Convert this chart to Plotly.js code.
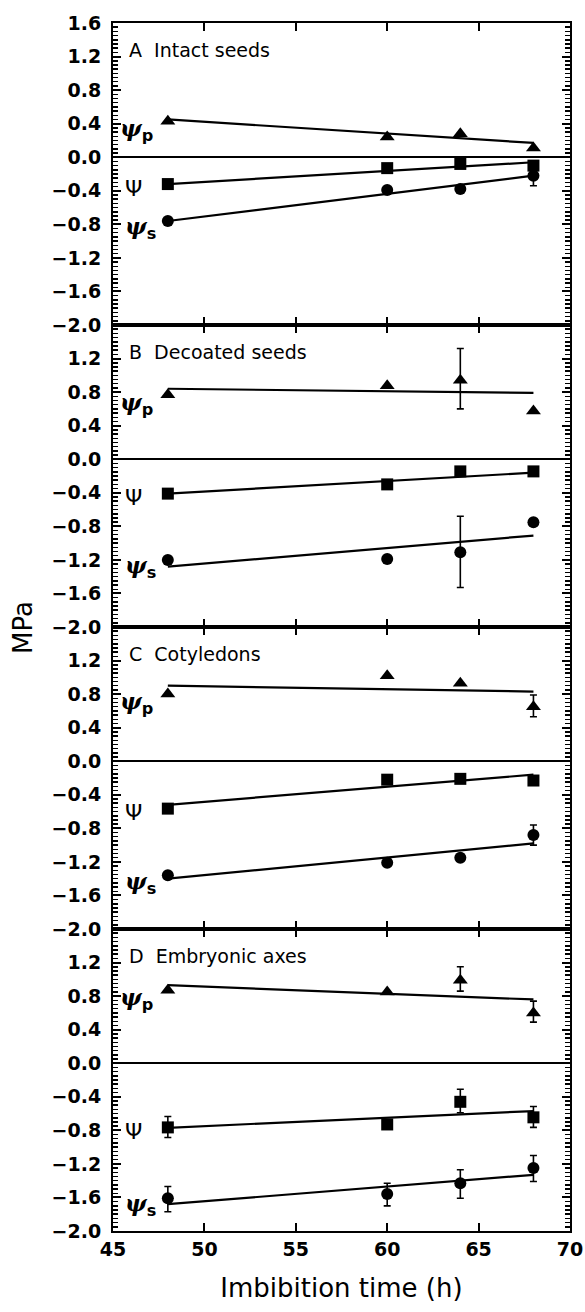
<!DOCTYPE html>
<html>
<head>
<meta charset="utf-8">
<script src="https://cdn.plot.ly/plotly-3.0.1.min.js"></script>
<style>html,body{margin:0;padding:0;background:#fff;}#chart{width:585px;height:1312px;}</style>
</head>
<body>
<div id="chart"></div>
<script>
// Imbibition time (h)
const time = [48, 60, 64, 68];
const fitX = [48, 68];

const panelTitles = ["A  Intact seeds", "B  Decoated seeds", "C  Cotyledons", "D  Embryonic axes"];

// Panel A: intact seeds
const A_psiP = [0.43, 0.24, 0.28, 0.11];
const A_psiP_up = [null, null, null, null];
const A_psiP_dn = [null, null, null, null];
const A_psiP_fit = [0.45, 0.17];
const A_psi = [-0.32, -0.13, -0.08, -0.10];
const A_psi_up = [null, null, null, null];
const A_psi_dn = [null, null, null, null];
const A_psi_fit = [-0.32, -0.06];
const A_psiS = [-0.76, -0.39, -0.38, -0.22];
const A_psiS_up = [null, null, null, 0.12];
const A_psiS_dn = [null, null, null, 0.12];
const A_psiS_fit = [-0.76, -0.22];

// Panel B: decoated seeds
const B_psiP = [0.77, 0.875, 0.94, 0.575];
const B_psiP_up = [null, null, 0.38, null];
const B_psiP_dn = [null, null, 0.34, null];
const B_psiP_fit = [0.84, 0.79];
const B_psi = [-0.41, -0.30, -0.145, -0.145];
const B_psi_up = [null, null, null, null];
const B_psi_dn = [null, null, null, null];
const B_psi_fit = [-0.41, -0.16];
const B_psiS = [-1.20, -1.19, -1.11, -0.75];
const B_psiS_up = [null, null, 0.43, null];
const B_psiS_dn = [null, null, 0.42, null];
const B_psiS_fit = [-1.28, -0.91];

// Panel C: cotyledons
const C_psiP = [0.80, 1.02, 0.93, 0.65];
const C_psiP_up = [null, null, null, 0.14];
const C_psiP_dn = [null, null, null, 0.12];
const C_psiP_fit = [0.90, 0.83];
const C_psi = [-0.565, -0.22, -0.21, -0.23];
const C_psi_up = [null, null, null, null];
const C_psi_dn = [null, null, null, null];
const C_psi_fit = [-0.52, -0.16];
const C_psiS = [-1.36, -1.21, -1.15, -0.88];
const C_psiS_up = [null, null, null, 0.12];
const C_psiS_dn = [null, null, null, 0.12];
const C_psiS_fit = [-1.40, -0.98];

// Panel D: embryonic axes
const D_psiP = [0.87, 0.85, 0.99, 0.60];
const D_psiP_up = [null, null, 0.16, 0.14];
const D_psiP_dn = [null, null, 0.13, 0.11];
const D_psiP_fit = [0.93, 0.76];
const D_psi = [-0.765, -0.73, -0.46, -0.645];
const D_psi_up = [0.13, null, 0.15, 0.13];
const D_psi_dn = [0.12, null, 0.13, 0.12];
const D_psi_fit = [-0.77, -0.57];
const D_psiS = [-1.61, -1.56, -1.43, -1.25];
const D_psiS_up = [0.14, 0.13, 0.16, 0.15];
const D_psiS_dn = [0.16, 0.14, 0.18, 0.16];
const D_psiS_fit = [-1.68, -1.33];

const yTicksTop = [-2.0, -1.6, -1.2, -0.8, -0.4, 0.0, 0.4, 0.8, 1.2, 1.6];
const yTicksOther = [-2.0, -1.6, -1.2, -0.8, -0.4, 0.0, 0.4, 0.8, 1.2];
const xTicks = [45, 50, 55, 60, 65, 70];

const panels = [
  {psiP:[A_psiP,A_psiP_up,A_psiP_dn,A_psiP_fit], psi:[A_psi,A_psi_up,A_psi_dn,A_psi_fit], psiS:[A_psiS,A_psiS_up,A_psiS_dn,A_psiS_fit]},
  {psiP:[B_psiP,B_psiP_up,B_psiP_dn,B_psiP_fit], psi:[B_psi,B_psi_up,B_psi_dn,B_psi_fit], psiS:[B_psiS,B_psiS_up,B_psiS_dn,B_psiS_fit]},
  {psiP:[C_psiP,C_psiP_up,C_psiP_dn,C_psiP_fit], psi:[C_psi,C_psi_up,C_psi_dn,C_psi_fit], psiS:[C_psiS,C_psiS_up,C_psiS_dn,C_psiS_fit]},
  {psiP:[D_psiP,D_psiP_up,D_psiP_dn,D_psiP_fit], psi:[D_psi,D_psi_up,D_psi_dn,D_psi_fit], psiS:[D_psiS,D_psiS_up,D_psiS_dn,D_psiS_fit]}
];

const symbols = {psiP: ['triangle-up', 13], psi: ['square', 12], psiS: ['circle', 12]};
const traces = [];
const annotations = [];
const layout = {
  width: 585, height: 1312,
  margin: {l: 113, r: 15, t: 23, b: 81},
  paper_bgcolor: '#fff', plot_bgcolor: '#fff',
  showlegend: false,
  font: {family: 'DejaVu Sans', color: '#000'}
};

panels.forEach((p, i) => {
  const n = i + 1;
  const xa = n === 1 ? 'x' : 'x' + n;
  const ya = n === 1 ? 'y' : 'y' + n;
  ['psiP', 'psi', 'psiS'].forEach(key => {
    const [vals, up, dn, fit] = p[key];
    traces.push({x: fitX, y: fit, xaxis: xa, yaxis: ya, mode: 'lines', line: {color: '#000', width: 2.2}, hoverinfo: 'skip'});
    traces.push({
      x: time, y: vals, xaxis: xa, yaxis: ya, mode: 'markers',
      marker: {symbol: symbols[key][0], size: symbols[key][1], color: '#000'},
      error_y: {type: 'data', symmetric: false, array: up, arrayminus: dn, color: '#000', thickness: 1.6, width: 3.5}
    });
  });
  const top = 1 - i * 0.25, bot = top - 0.25;
  layout['xaxis' + (n === 1 ? '' : n)] = {
    domain: [0, 1], anchor: ya, range: [45, 70], tickvals: xTicks,
    ticks: 'inside', ticklen: 8, tickwidth: 2, tickcolor: '#000',
    showline: true, linewidth: 2, linecolor: '#000', mirror: 'ticks',
    showgrid: false, zeroline: false, showticklabels: n === 4,
    tickfont: {family: 'DejaVu Sans', size: 19, weight: 'bold', color: '#000'}
  };
  const tv = n === 1 ? yTicksTop : yTicksOther;
  layout['yaxis' + (n === 1 ? '' : n)] = {
    domain: [bot, top], anchor: xa, range: [-2.0, 1.6],
    tickvals: tv, ticktext: tv.map(v => (v < 0 ? '\u2212' : '') + Math.abs(v).toFixed(1)),
    ticks: 'inside', ticklen: 8, tickwidth: 2, tickcolor: '#000',
    minor: {ticks: 'inside', ticklen: 5, tickwidth: 1.5, tickcolor: '#000', dtick: 0.05, showgrid: false},
    showline: true, linewidth: 2, linecolor: '#000', mirror: 'ticks',
    showgrid: false, zeroline: true, zerolinecolor: '#000', zerolinewidth: 2,
    ticklabelstandoff: 6,
    tickfont: {family: 'DejaVu Sans', size: 19, weight: 'bold', color: '#000'}
  };
  annotations.push({xref: xa, yref: ya, x: 45.75, y: 1.28, xanchor: 'left', yanchor: 'middle', showarrow: false,
    text: panelTitles[i], font: {family: 'DejaVu Sans', size: 19, color: '#000'}});
  const labFont = {family: 'DejaVu Serif', size: 23, color: '#000'};
  const sub = s => '<span style="font-family:DejaVu Sans;font-weight:bold">' + s + '</span>';
  annotations.push({xref: xa, yref: ya, x: 47.3, y: p.psiP[0][0] - 0.1, xanchor: 'right', yanchor: 'middle', showarrow: false,
    text: '<b><i>\u03c8</i></b><sub>' + sub('p') + '</sub>', font: labFont});
  annotations.push({xref: xa, yref: ya, x: 46.7, y: p.psi[0][0] - 0.05, xanchor: 'right', yanchor: 'middle', showarrow: false,
    text: '\u03a8', font: {family: 'DejaVu Sans', size: 22, color: '#000'}});
  annotations.push({xref: xa, yref: ya, x: 47.45, y: p.psiS[0][0] - 0.08, xanchor: 'right', yanchor: 'middle', showarrow: false,
    text: '<b><i>\u03c8</i></b><sub>' + sub('s') + '</sub>', font: labFont});
});

layout.xaxis4.title = {text: 'Imbibition time (h)', font: {family: 'DejaVu Sans', size: 26, color: '#000'}, standoff: 20};
annotations.push({xref: 'paper', yref: 'paper', x: -0.197, y: 0.5, xanchor: 'center', yanchor: 'middle', textangle: -90,
  showarrow: false, text: 'MPa', font: {family: 'DejaVu Sans', size: 26, color: '#000'}});
layout.annotations = annotations;

Plotly.newPlot('chart', traces, layout, {displayModeBar: false, staticPlot: true});
</script>
</body>
</html>
